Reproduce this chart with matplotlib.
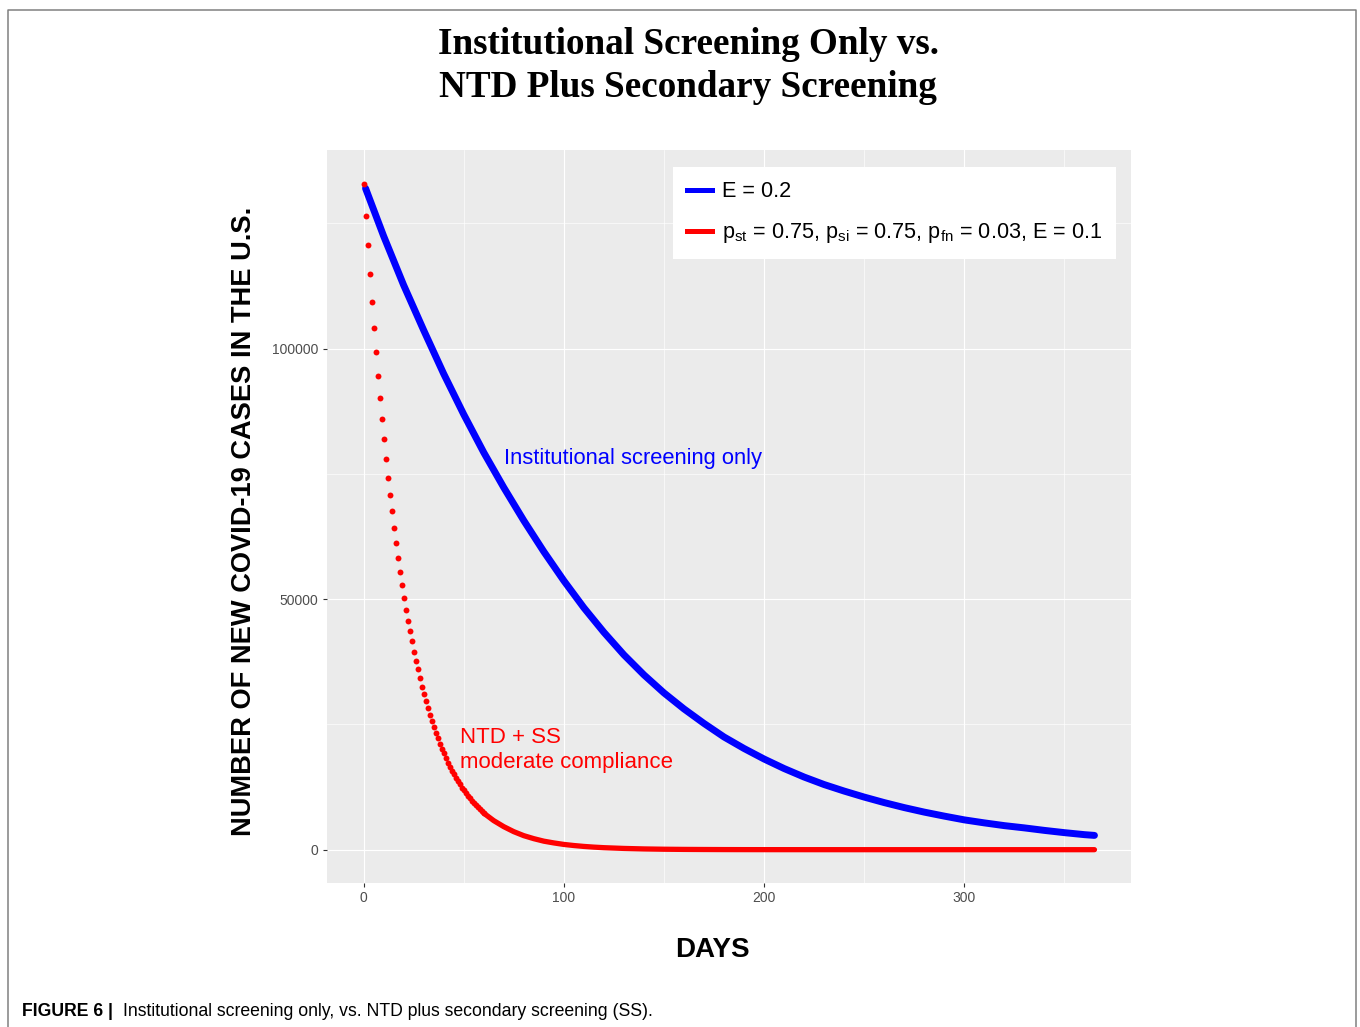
import matplotlib
matplotlib.use('Agg')
import matplotlib.pyplot as plt
from matplotlib.lines import Line2D

plt.rcParams['font.family'] = ['Liberation Sans', 'DejaVu Sans']
plt.rcParams['mathtext.default'] = 'regular'

# Institutional screening only (E = 0.2), read every 10 days
blue_days = [1, 10, 20, 30, 40, 50, 60, 70, 80, 90, 100, 110, 120, 130, 140, 150, 160, 170, 180,
             190, 200, 210, 220, 230, 240, 250, 260, 270, 280, 290, 300, 310, 320, 330, 340, 350, 360, 365]
blue_cases = [132000, 122500, 112700, 103700, 95000, 86900, 79300, 72300, 65700, 59500, 53700, 48300,
              43400, 38900, 34900, 31300, 28100, 25200, 22500, 20200, 18100, 16200, 14500, 13000,
              11700, 10500, 9400, 8400, 7500, 6700, 5950, 5350, 4800, 4350, 3850, 3400, 3000, 2850]

# NTD + SS, moderate compliance: daily dots for the first 60 days
red_days = list(range(0, 61))
red_cases = [132900, 126400, 120700, 114900, 109300, 104200, 99400, 94500, 90100, 85900,
             81900, 77900, 74200, 70700, 67500, 64200, 61200, 58200, 55400, 52900,
             50300, 47900, 45700, 43600, 41600, 39400, 37600, 36000, 34200, 32500,
             31100, 29600, 28200, 26900, 25600, 24400, 23300, 22200, 21100, 20100,
             19200, 18300, 17400, 16600, 15800, 15100, 14400, 13700, 13100, 12400,
             11900, 11300, 10800, 10300, 9800, 9300, 8900, 8500, 8100, 7700, 7300]
# ... and the flat tail afterwards
red_tail_days = [60, 65, 70, 75, 80, 85, 90, 95, 100, 105, 110, 115, 120, 130, 140, 150, 160, 170,
                 180, 190, 200, 210, 220, 230, 240, 250, 260, 270, 280, 290, 300, 310, 320, 330,
                 340, 350, 360, 365]
red_tail_cases = [7300, 5800, 4600, 3600, 2800, 2200, 1700, 1350, 1050, 830, 650, 510, 400, 250,
                  150, 90, 55, 35, 20, 12, 8, 5, 3, 2, 1, 1, 0, 0, 0, 0, 0, 0, 0, 0, 0, 0, 0, 0]

x_ticks = [0, 100, 200, 300]
y_ticks = [0, 50000, 100000]
legend_labels = ['E = 0.2',
                 'p$_{st}$ = 0.75, p$_{si}$ = 0.75, p$_{fn}$ = 0.03, E = 0.1']

W, H = 1360, 1027
fig = plt.figure(figsize=(W / 100, H / 100), dpi=100)
ax = fig.add_axes([327 / W, 1 - 883 / H, 804 / W, 733 / H])
ax.set_facecolor('#EBEBEB')
for s in ax.spines.values():
    s.set_visible(False)

ax.plot(blue_days, blue_cases, color='#0000FF', lw=5, solid_capstyle='round', zorder=3)
ax.plot(red_tail_days, red_tail_cases, color='#FF0000', lw=3.8, solid_capstyle='round', zorder=4)
ax.scatter(red_days, red_cases, s=18, color='#FF0000', linewidths=0, zorder=4)

ax.set_xlim(-18.25, 383.25)
ax.set_ylim(-6650, 139650)
ax.set_xticks(x_ticks)
ax.set_yticks(y_ticks)
ax.set_xticks([50, 150, 250, 350], minor=True)
ax.set_yticks([25000, 75000, 125000], minor=True)
ax.grid(which='major', color='white', lw=0.85)
ax.grid(which='minor', color='white', lw=0.45)
ax.set_axisbelow(True)
ax.tick_params(which='major', length=3, width=0.8, color='#333333', labelcolor='#4D4D4D',
               labelsize=10, pad=3)
ax.tick_params(which='minor', length=0)

ax.set_xlabel('DAYS', fontsize=20, fontweight='bold')
ax.xaxis.set_label_coords((712 - 327) / 804, -(950 - 883) / 733)
ax.xaxis.label.set_va('center')
ax.set_ylabel('NUMBER OF NEW COVID-19 CASES IN THE U.S.', fontsize=19.6, fontweight='bold')
ax.yaxis.set_label_coords(-(327 - 244) / 804, (883 - 521) / 733)
ax.yaxis.label.set_va('center')

ax.text(70, 78000, 'Institutional screening only', color='#0000FF', fontsize=15.8, va='center')
ax.text(48, 19900, 'NTD + SS\nmoderate compliance', color='#FF0000', fontsize=16,
        va='center', linespacing=1.3)

handles = [Line2D([], [], color='#0000FF', lw=3.6), Line2D([], [], color='#FF0000', lw=3.6)]
leg = ax.legend(handles, legend_labels, loc='upper left', bbox_to_anchor=(0.4303, 0.9768),
                fontsize=15.6, frameon=True, fancybox=False, facecolor='white', edgecolor='white',
                framealpha=1, handlelength=1.15, handletextpad=0.45, borderpad=0.65,
                labelspacing=0.88, borderaxespad=0)
leg.get_frame().set_linewidth(0)

fig.text(688 / W, 1 - 66 / H, 'Institutional Screening Only vs.\nNTD Plus Secondary Screening',
         ha='center', va='center', fontsize=26.7, fontweight='bold', family='Liberation Serif',
         linespacing=1.3)

fig.text(22 / W, 1 - 1012 / H, 'FIGURE 6 |', fontsize=12.7, fontweight='bold', va='center')
fig.text(123 / W, 1 - 1012 / H, 'Institutional screening only, vs. NTD plus secondary screening (SS).',
         fontsize=12.7, va='center')

fig.add_artist(Line2D([8 / W, 8 / W, 1356 / W, 1356 / W], [0, 1 - 10 / H, 1 - 10 / H, 0],
                      color='#808080', lw=1.1))

fig.savefig('out.png', dpi=100)
